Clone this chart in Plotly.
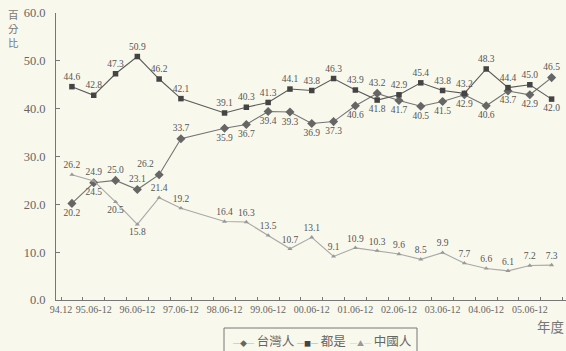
import plotly.graph_objects as go

# ---- data ----
periods = ["94.12", "95.06", "95.12", "96.06", "96.12", "97.06",
           "98.06", "98.12", "99.06", "99.12", "00.06", "00.12",
           "01.06", "01.12", "02.06", "02.12", "03.06", "03.12",
           "04.06", "04.12", "05.06", "05.12"]
taiwanese = [20.2, 24.5, 25.0, 23.1, 26.2, 33.7, 35.9, 36.7, 39.4, 39.3, 36.9,
             37.3, 40.6, 43.2, 41.7, 40.5, 41.5, 42.9, 40.6, 43.7, 42.9, 46.5]
both = [44.6, 42.8, 47.3, 50.9, 46.2, 42.1, 39.1, 40.3, 41.3, 44.1, 43.8,
        46.3, 43.9, 41.8, 42.9, 45.4, 43.8, 43.2, 48.3, 44.4, 45.0, 42.0]
chinese = [26.2, 24.9, 20.5, 15.8, 21.4, 19.2, 16.4, 16.3, 13.5, 10.7, 13.1,
           9.1, 10.9, 10.3, 9.6, 8.5, 9.9, 7.7, 6.6, 6.1, 7.2, 7.3]
tick_labels = ["94.12", "95.06-12", "96.06-12", "97.06-12", "98.06-12",
               "99.06-12", "00.06-12", "01.06-12", "02.06-12", "03.06-12",
               "04.06-12", "05.06-12"]
series_names = ["台灣人", "都是", "中國人"]
y_title = ["百", "分", "比"]
x_title = "年度"


def slot(p):
    yy, mm = p.split(".")
    y = int(yy)
    y = y + 100 if y < 50 else y
    return (y - 95) * 2 + 1 + (0 if mm == "06" else 1)


xs = [slot(p) for p in periods]
tick_vals = [-0.5] + [slot(t.split("-")[0]) for t in tick_labels[1:]]

# label placement per point
tw_pos = ["bottom center", "bottom center", "top center", "top center", "top left",
          "top center"] + ["bottom center"] * 7 + ["top center"] + ["bottom center"] * 7 + ["top center"]
both_pos = ["top center"] * 13 + ["bottom center"] + ["top center"] * 7 + ["bottom center"]
cn_pos = ["top center", "top center", "bottom center", "bottom center"] + ["top center"] * 18

serif = "Liberation Serif, Times New Roman, serif"
cjk = "Noto Sans CJK TC, Noto Sans CJK SC, sans-serif"
bg = "#F9F8EC"

styles = [
    dict(line="#747474", marker="#666666", symbol="diamond", size=7, glyph="◆"),
    dict(line="#5a5a5a", marker="#444444", symbol="square", size=5.5, glyph="■"),
    dict(line="#a8a8a8", marker="#999999", symbol="triangle-up", size=4.5, glyph="▲"),
]
values = [taiwanese, both, chinese]
positions = [tw_pos, both_pos, cn_pos]

fig = go.Figure()
for name, vals, pos, st in zip(series_names, values, positions, styles):
    fig.add_trace(go.Scatter(
        x=xs, y=vals, name=name, mode="lines+markers+text",
        line=dict(color=st["line"], width=1.1),
        marker=dict(symbol=st["symbol"], size=st["size"], color=st["marker"]),
        text=[f"{v:.1f}" for v in vals], textposition=pos,
        textfont=dict(family=serif, size=9.5, color="#555555"),
        cliponaxis=False, showlegend=False))

W, H, L, T = 510, 287, 56, 13


def px(x):
    return (x - L) / W


def py(y):
    return (300 - y) / H


fig.update_layout(
    width=566, height=351,
    margin=dict(l=L, r=0, t=T, b=51, autoexpand=False),
    paper_bgcolor=bg, plot_bgcolor=bg,
    showlegend=False,
    xaxis=dict(range=[-0.73, 22.66], tickmode="array", tickvals=tick_vals,
               ticktext=tick_labels, ticks="", showgrid=False, zeroline=False,
               showline=True, linecolor="#777777", linewidth=1,
               tickfont=dict(family=serif, size=10, color="#666666"),
               minor=dict(ticks="inside", ticklen=3, tick0=-0.5, dtick=1,
                          tickcolor="#777777", showgrid=False)),
    yaxis=dict(range=[0, 60], tickmode="linear", tick0=0, dtick=10,
               tickformat=".1f", ticks="inside", ticklen=4, tickcolor="#777777",
               showgrid=False, zeroline=False, showline=True,
               linecolor="#777777", linewidth=1, ticklabelstandoff=7,
               tickfont=dict(family=serif, size=12.5, color="#666666")),
)

# y-axis title (vertical, one character per line)
for ch, yy in zip(y_title, [14.5, 28.5, 42.5]):
    fig.add_annotation(text=ch, xref="paper", yref="paper",
                       x=px(13), y=py(yy), xanchor="center", yanchor="middle",
                       showarrow=False, borderpad=0,
                       font=dict(family=cjk, size=10.5, color="#777777"))
# x-axis title
fig.add_annotation(text=x_title, xref="paper", yref="paper", x=1.0,
                   y=py(326), xanchor="right", yanchor="middle",
                   showarrow=False, font=dict(family=cjk, size=13.5, color="#777777"))

# legend box and entries
fig.add_shape(type="rect", xref="paper", yref="paper",
              x0=px(224), x1=px(417), y0=py(328), y1=py(360),
              line=dict(color="#777777", width=1), fillcolor=bg, layer="above")
for name, st, x0 in zip(series_names, styles, [232, 296, 349]):
    fig.add_annotation(
        text=(f"<span style='font-size:7px;color:{st['line']}'>─</span>"
              f"<span style='font-size:7px;color:{st['marker']}'>{st['glyph']}</span>"
              f"<span style='font-size:7px;color:{st['line']}'>─</span> {name}"),
        xref="paper", yref="paper", x=px(x0), y=py(340),
        xanchor="left", yanchor="middle", showarrow=False, borderpad=0,
        font=dict(family=cjk, size=12.5, color="#666666"))

fig.write_html("out.html")
